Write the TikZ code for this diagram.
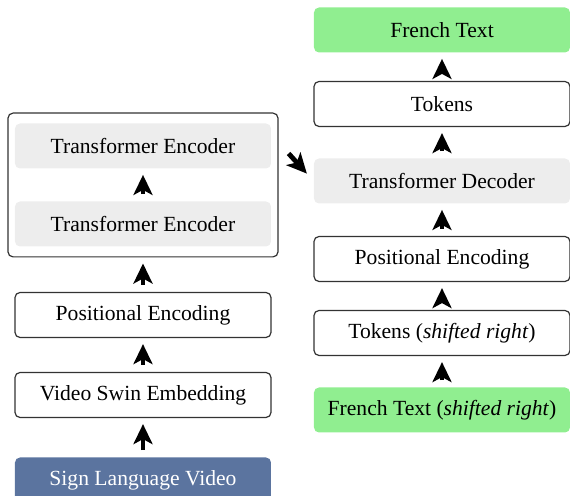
\documentclass[tikz,border=0pt]{standalone}
\usepackage{fontspec}
\setmainfont{Liberation Serif}
\usetikzlibrary{arrows.meta,fit,calc}

\definecolor{blockgray}{HTML}{EDEDED}
\definecolor{textgreen}{HTML}{90EE90}
\definecolor{videoblue}{HTML}{5B749F}

\newcommand*\blockwidth{128pt}
\newcommand*\blockheight{22.5pt}
\tikzset{block/.style={
    rectangle,
    rounded corners=2.5pt,
    minimum width=\blockwidth,
    minimum height=\blockheight,
    inner sep=0pt,
    font=\fontsize{10.8}{13}\selectfont,
    align=center
}}
\tikzset{plainblock/.style={block, draw=black!80, line width=0.6pt, fill=white}}
\tikzset{grayblock/.style={block, fill=blockgray}}
\tikzset{greenblock/.style={block, fill=textgreen}}
\tikzset{videoblock/.style={block, fill=videoblue, text=white}}
\tikzset{flow/.style={
    -{Stealth[length=10pt,width=9.5pt,inset=2.5pt]},
    line width=2.4pt,
    shorten <=3.5pt,
    shorten >=3pt
}}

\begin{document}
\begin{tikzpicture}[x=0.5pt,y=-0.5pt]

    \useasboundingbox (0,0) rectangle (570,496);

    % Encoder side, bottom to top.
    \node[videoblock] (video) at (143,480) {Sign Language Video};
    \node[plainblock] (swin) at (143,395) {Video Swin Embedding};
    \node[plainblock] (posenc) at (143,315) {Positional Encoding};
    \node[grayblock] (encone) at (143,224) {Transformer Encoder};
    \node[grayblock] (enctwo) at (143,146) {Transformer Encoder};
    \node[draw=black!80, line width=0.6pt, rounded corners=2.5pt,
          inner xsep=3.3pt, inner ysep=5pt, fit=(encone)(enctwo)] (encstack) {};

    % Decoder side, bottom to top.
    \node[greenblock] (frenchin) at (442,410) {French Text (\textit{shifted right})};
    \node[plainblock] (tokin) at (442,333) {Tokens (\textit{shifted right})};
    \node[plainblock] (posdec) at (442,259) {Positional Encoding};
    \node[grayblock] (dec) at (442,181) {Transformer Decoder};
    \node[plainblock] (tokout) at (442,104) {Tokens};
    \node[greenblock] (frenchout) at (442,30) {French Text};

    % Arrows, encoder side.
    \draw[flow] (video) -- (swin);
    \draw[flow] (swin) -- (posenc);
    \draw[flow] (posenc) -- (encstack);
    \draw[flow] (encone) -- (enctwo);

    % Arrows, decoder side.
    \draw[flow] (frenchin) -- (tokin);
    \draw[flow] (tokin) -- (posdec);
    \draw[flow] (posdec) -- (dec);
    \draw[flow] (dec) -- (tokout);
    \draw[flow] (tokout) -- (frenchout);

    % Encoder output into the decoder.
    \coordinate (memory) at ($(encstack.east)+(10,-31.5)$);
    \draw[flow, shorten <=0pt, shorten >=5pt] (memory) -- (dec.west);

\end{tikzpicture}
\end{document}
